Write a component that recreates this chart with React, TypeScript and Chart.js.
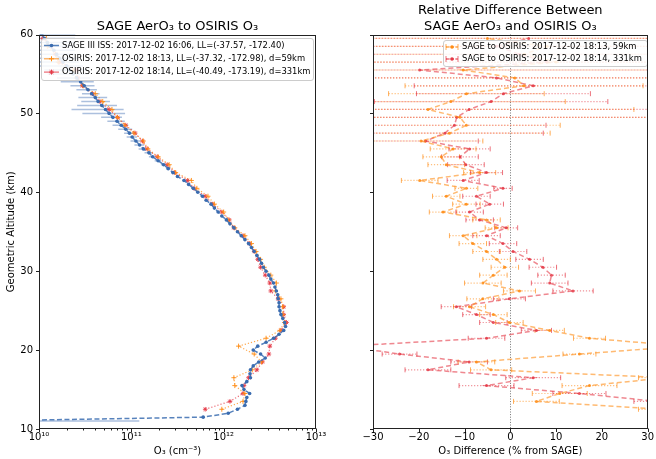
import React, { useEffect, useRef } from 'react';
import { Chart, registerables } from 'chart.js';

Chart.register(...registerables);

const FONT = "'DejaVu Sans', sans-serif";
Chart.defaults.font.family = FONT;
Chart.defaults.color = '#000';

// ---------------- data ----------------
const sageAlt = [
  11, 11.5, 12, 12.5, 13, 13.5, 14, 14.5, 15, 15.5,
  16, 16.5, 17, 17.5, 18, 18.5, 19, 19.5, 20, 20.5,
  21, 21.5, 22, 22.5, 23, 23.5, 24, 24.5, 25, 25.5,
  26, 26.5, 27, 27.5, 28, 28.5, 29, 29.5, 30, 30.5,
  31, 31.5, 32, 32.5, 33, 33.5, 34, 34.5, 35, 35.5,
  36, 36.5, 37, 37.5, 38, 38.5, 39, 39.5, 40, 40.5,
  41, 41.5, 42, 42.5, 43, 43.5, 44, 44.5, 45, 45.5,
  46, 46.5, 47, 47.5, 48, 48.5, 49, 49.5, 50, 50.5,
  51, 51.5, 52, 52.5, 53, 53.5, 54, 54.5, 55, 55.5,
  56, 56.5, 57, 57.5, 58, 58.5, 59, 59.5, 60,
];
const sageO3 = [
  2.0e9, 6.0e11, 1.12e12, 1.41e12, 1.70e12, 1.74e12, 1.78e12, 1.91e12, 1.66e12, 1.58e12,
  1.78e12, 1.95e12, 1.93e12, 1.95e12, 2.09e12, 2.40e12, 2.82e12, 2.51e12, 2.09e12, 2.34e12,
  2.88e12, 3.47e12, 3.98e12, 4.47e12, 4.68e12, 4.57e12, 4.37e12, 4.17e12, 4.07e12, 3.98e12,
  3.98e12, 3.89e12, 3.85e12, 3.72e12, 3.59e12, 3.47e12, 3.24e12, 3.09e12, 2.88e12, 2.69e12,
  2.57e12, 2.45e12, 2.29e12, 2.14e12, 2.00e12, 1.86e12, 1.70e12, 1.55e12, 1.41e12, 1.29e12,
  1.17e12, 1.07e12, 9.55e11, 8.71e11, 7.94e11, 7.30e11, 6.46e11, 5.89e11, 5.25e11, 4.68e11,
  4.17e11, 3.72e11, 3.16e11, 2.82e11, 2.51e11, 2.24e11, 1.95e11, 1.70e11, 1.55e11, 1.35e11,
  1.23e11, 1.12e11, 1.02e11, 9.55e10, 8.71e10, 7.76e10, 7.00e10, 6.31e10, 5.75e10, 5.25e10,
  4.79e10, 4.37e10, 4.07e10, 3.72e10, 3.39e10, 3.09e10, 2.82e10, 2.57e10, 2.34e10, 2.14e10,
  2.00e10, 1.82e10, 1.66e10, 1.55e10, 1.45e10, 1.32e10, 1.23e10, 1.15e10, 1.07e10,
];
const sageErr = [
  1.2e11, 2.0e10, 3.0e10, 3.5e10, 4.0e10, 4.0e10, 4.5e10, 4.5e10, 4.0e10, 4.0e10,
  4.5e10, 4.5e10, 4.5e10, 4.5e10, 5.0e10, 5.5e10, 6.0e10, 6.0e10, 5.0e10, 5.5e10,
  6.5e10, 7.5e10, 8.5e10, 9.0e10, 9.5e10, 9.0e10, 9.0e10, 8.5e10, 8.5e10, 8.0e10,
  8.0e10, 8.0e10, 8.0e10, 7.5e10, 7.5e10, 7.0e10, 7.0e10, 6.5e10, 6.0e10, 6.0e10,
  5.5e10, 5.5e10, 5.0e10, 5.0e10, 4.5e10, 4.5e10, 4.0e10, 4.0e10, 3.5e10, 3.5e10,
  3.0e10, 3.0e10, 2.8e10, 2.6e10, 2.4e10, 2.2e10, 2.0e10, 1.8e10, 1.6e10, 1.5e10,
  1.4e10, 1.3e10, 1.2e10, 1.3e10, 1.4e10, 1.5e10, 1.6e10, 1.5e10, 1.6e10, 1.5e10,
  1.5e10, 1.4e10, 1.3e10, 1.2e10, 1.5e10, 1.5e10, 1.5e10, 1.6e10, 2.8e10, 3.0e10,
  2.2e10, 1.5e10, 1.4e10, 8.0e9, 8.5e9, 9.0e9, 1.1e10, 1.0e10, 1.1e10, 1.0e10,
  1.0e10, 9.0e9, 1.0e10, 9.0e9, 1.0e10, 1.1e10, 1.2e10, 1.3e10, 1.4e10,
];

const osirisAlt = [
  12.5, 13.5, 14.5, 15.5, 16.5, 17.5, 18.5, 19.5, 20.5, 21.5,
  22.5, 23.5, 24.5, 25.5, 26.5, 27.5, 28.5, 29.5, 30.5, 31.5,
  32.5, 33.5, 34.5, 35.5, 36.5, 37.5, 38.5, 39.5, 40.5, 41.5,
  42.5, 43.5, 44.5, 45.5, 46.5, 47.5, 48.5, 49.5, 50.5, 51.5,
  52.5, 53.5, 54.5, 55.5, 56.5, 57.5, 58.5, 59.5,
];
const osiris59O3 = [
  9.55e11, 1.62e12, 1.70e12, 1.32e12, 1.29e12, 2.04e12, 2.57e12, 2.14e12, 1.45e12, 2.88e12,
  4.07e12, 4.57e12, 4.37e12, 4.37e12, 4.17e12, 3.63e12, 3.72e12, 3.24e12, 2.75e12, 2.51e12,
  2.24e12, 2.00e12, 1.70e12, 1.32e12, 1.12e12, 1.00e12, 7.94e11, 6.76e11, 5.13e11, 4.47e11,
  3.02e11, 2.57e11, 1.95e11, 1.51e11, 1.35e11, 1.07e11, 8.51e10, 7.08e10, 6.17e10, 4.90e10,
  4.07e10, 3.02e10, 2.57e10, 2.34e10, 1.62e10, 1.51e10, 1.23e10, 1.20e10,
];
const osiris331O3 = [
  6.31e11, 1.17e12, 1.62e12, 1.66e12, 1.86e12, 2.29e12, 2.63e12, 3.09e12, 3.16e12, 3.63e12,
  4.17e12, 4.79e12, 4.47e12, 4.47e12, 3.89e12, 3.24e12, 3.16e12, 2.82e12, 2.51e12, 2.34e12,
  2.14e12, 1.91e12, 1.62e12, 1.29e12, 1.15e12, 9.55e11, 7.59e11, 6.31e11, 4.79e11, 4.07e11,
  2.95e11, 2.45e11, 1.91e11, 1.48e11, 1.32e11, 1.10e11, 8.71e10, 7.08e10, 5.75e10, 4.57e10,
  3.80e10, 2.95e10, 2.63e10, 2.57e10, 1.66e10, 1.51e10, 1.35e10, 1.10e10,
];
const diff59 = [
  33, 5.7, 10.8, 17.3, 34, -4.2, -7.4, 15.1, 38, 17.3,
  8.6, -0.2, -3.7, -8.9, -6, 2, -6, -3.7, -1.2, -3,
  -5.2, -8.2, -10.3, -3, -5.2, -14.7, -9.6, -14, -9.6, -19.8,
  -6.7, -14, -15.1, -12.5, -19.5, -13.3, -9.6, -11, -18, -13,
  -9.6, 3, 1, -10.3, 10, 3, 8, -5,
];
const diff331 = [
  55, 32, 15.1, -5.2, 5, -18, -9, -24.2, -36, -5.2,
  5.7, -3.7, -7.4, -11.8, -0.2, 13.7, 8.6, 9, 7.1, 4.2,
  0.6, -1.6, -5.2, -0.9, -6.7, -8.9, -4.5, -7.4, -1.6, -10.3,
  -5.2, -9.7, -11, -8.9, -18.5, -14.3, -12.2, -11.7, -9, -4.2,
  -1.5, 5, -3, -19.8, 8, 2, -3, 4,
];
const err59 = [
  5, 5, 6, 6, 6, 4.5, 4, 3.6, 4, 3.5,
  3.2, 3, 3, 3.5, 3.5, 3.5, 4, 3, 3, 3,
  3, 3, 3, 2.5, 3, 3, 3, 3, 2.5, 4,
  3.5, 4, 4, 5, 13.5, 22, 20.5, 60, 45, 25,
  17, 26, 60, 60, 60, 60, 80, 80,
];
const err331 = [
  6, 5, 5.8, 6, 6, 5, 4, 3.8, 4, 4,
  3.3, 3, 3, 3.3, 3.5, 4.4, 4, 3, 3, 3,
  3, 3, 3, 2.5, 3, 3, 3, 3, 2, 3.5,
  3.5, 4, 4, 4.5, 11.5, 21.5, 20, 60, 48, 25.5,
  19, 26, 60, 60, 60, 60, 80, 80,
];

const altTicks = [10, 20, 30, 40, 50, 60];
const diffTicks = [-30, -20, -10, 0, 10, 20, 30];

const leftTitle = ['SAGE AerO\u2083 to OSIRIS O\u2083'];
const rightTitle = ['Relative Difference Between', 'SAGE AerO\u2083 and OSIRIS O\u2083'];
const sageLabel = 'SAGE III ISS: 2017-12-02 16:06, LL=(-37.57, -172.40)';
const osiris59Label = 'OSIRIS: 2017-12-02 18:13, LL=(-37.32, -172.98), d=59km';
const osiris331Label = 'OSIRIS: 2017-12-02 18:14, LL=(-40.49, -173.19), d=331km';
const diff59Label = 'SAGE to OSIRIS: 2017-12-02 18:13, 59km';
const diff331Label = 'SAGE to OSIRIS: 2017-12-02 18:14, 331km';

// ---------------- styling ----------------
const BLUE = 'rgb(58,108,176)';
const ORANGE = 'rgb(255,140,20)';
const RED = 'rgb(228,56,70)';
const LEGEND_FONT = `8.4px ${FONT}`;

const SUP: Record<string, string> = {
  '0': '\u2070', '1': '\u00b9', '2': '\u00b2', '3': '\u00b3', '4': '\u2074',
  '5': '\u2075', '6': '\u2076', '7': '\u2077', '8': '\u2078', '9': '\u2079', '-': '\u207b',
};
const sup = (s: string) => s.split('').map((c) => SUP[c] ?? c).join('');
const isPow10 = (v: number) => {
  const l = Math.log10(v);
  return Math.abs(l - Math.round(l)) < 1e-6;
};

// ---------------- plugins ----------------
const errorBarPlugin = {
  id: 'xErrorBars',
  beforeDatasetsDraw(chart: any) {
    const { ctx, chartArea: ca, scales } = chart;
    const xs = scales.x;
    const ys = scales.y;
    ctx.save();
    ctx.beginPath();
    ctx.rect(ca.left, ca.top, ca.right - ca.left, ca.bottom - ca.top);
    ctx.clip();
    chart.data.datasets.forEach((ds: any) => {
      const eb = ds.xErr;
      if (!eb) return;
      ds.data.forEach((p: any, i: number) => {
        const e = eb.values[i];
        let lo = p.x - e;
        const hi = p.x + e;
        if (xs.type === 'logarithmic' && lo <= 0) lo = xs.min / 100;
        const x1 = xs.getPixelForValue(lo);
        const x2 = xs.getPixelForValue(hi);
        const y = ys.getPixelForValue(p.y);
        ctx.strokeStyle = eb.color;
        ctx.lineWidth = eb.width;
        ctx.setLineDash(eb.dash || []);
        ctx.beginPath();
        ctx.moveTo(x1, y);
        ctx.lineTo(x2, y);
        ctx.stroke();
        if (eb.cap) {
          ctx.setLineDash([]);
          ctx.strokeStyle = eb.capColor || eb.color;
          ctx.lineWidth = 1;
          ctx.beginPath();
          ctx.moveTo(x1, y - eb.cap);
          ctx.lineTo(x1, y + eb.cap);
          ctx.moveTo(x2, y - eb.cap);
          ctx.lineTo(x2, y + eb.cap);
          ctx.stroke();
        }
      });
    });
    ctx.restore();
  },
};

const zeroLinePlugin = {
  id: 'zeroLine',
  beforeDatasetsDraw(chart: any) {
    const { ctx, chartArea: ca, scales } = chart;
    const x = Math.round(scales.x.getPixelForValue(0)) + 0.5;
    ctx.save();
    ctx.strokeStyle = 'rgba(60,60,60,0.9)';
    ctx.lineWidth = 0.8;
    ctx.setLineDash([1, 1.6]);
    ctx.beginPath();
    ctx.moveTo(x, ca.top);
    ctx.lineTo(x, ca.bottom);
    ctx.stroke();
    ctx.restore();
  },
};

const frameTicksPlugin = {
  id: 'frameTicks',
  afterDraw(chart: any) {
    const { ctx, chartArea: ca, scales } = chart;
    const xs = scales.x;
    const ys = scales.y;
    const L = Math.round(ca.left) + 0.5;
    const R = Math.round(ca.right) - 0.5;
    const T = Math.round(ca.top) + 0.5;
    const B = Math.round(ca.bottom) - 0.5;
    ctx.save();
    ctx.strokeStyle = '#222';
    ctx.lineWidth = 1;
    ctx.strokeRect(L, T, R - L, B - T);
    ctx.beginPath();
    if (xs.type === 'logarithmic') {
      xs.ticks.forEach((t: any) => {
        const v = t.value;
        const m = v / Math.pow(10, Math.floor(Math.log10(v) + 1e-9));
        if (Math.abs(m - Math.round(m)) > 1e-6) return;
        const px = Math.round(xs.getPixelForValue(v)) + 0.5;
        const len = isPow10(v) ? 3.5 : 2;
        ctx.moveTo(px, B);
        ctx.lineTo(px, B + len);
      });
    } else {
      xs.ticks.forEach((t: any) => {
        const px = Math.round(xs.getPixelForValue(t.value)) + 0.5;
        ctx.moveTo(px, B);
        ctx.lineTo(px, B + 3.5);
      });
    }
    ys.ticks.forEach((t: any) => {
      const py = Math.round(ys.getPixelForValue(t.value)) + 0.5;
      ctx.moveTo(L, py);
      ctx.lineTo(L - 3.5, py);
    });
    ctx.stroke();
    ctx.restore();
  },
};

function makeTitle(lines: string[], mids: number[]) {
  return {
    id: 'panelTitle',
    afterDraw(chart: any) {
      const { ctx, chartArea: ca } = chart;
      ctx.save();
      ctx.fillStyle = '#000';
      ctx.font = `13px ${FONT}`;
      ctx.textAlign = 'center';
      ctx.textBaseline = 'middle';
      const cx = (ca.left + ca.right) / 2;
      lines.forEach((l, i) => ctx.fillText(l, cx, mids[i]));
      ctx.restore();
    },
  };
}

type LegendItem = {
  text: string;
  color: string;
  lineColor: string;
  lw: number;
  dash: number[];
  marker: 'circle' | 'cross' | 'star';
  caps?: boolean;
  errColor?: string;
};
type LegendCfg = {
  x: number; y: number; w: number; h: number;
  first: number; step: number; hx: number; hlen: number; tx: number;
  items: LegendItem[];
};

function drawMarker(ctx: CanvasRenderingContext2D, kind: string, x: number, y: number, color: string) {
  ctx.setLineDash([]);
  if (kind === 'circle') {
    ctx.fillStyle = color;
    ctx.beginPath();
    ctx.arc(x, y, 1.8, 0, Math.PI * 2);
    ctx.fill();
  } else {
    ctx.strokeStyle = color;
    ctx.lineWidth = 1;
    ctx.beginPath();
    ctx.moveTo(x - 2.5, y);
    ctx.lineTo(x + 2.5, y);
    ctx.moveTo(x, y - 2.5);
    ctx.lineTo(x, y + 2.5);
    if (kind === 'star') {
      ctx.moveTo(x - 1.8, y - 1.8);
      ctx.lineTo(x + 1.8, y + 1.8);
      ctx.moveTo(x - 1.8, y + 1.8);
      ctx.lineTo(x + 1.8, y - 1.8);
    }
    ctx.stroke();
  }
}

function makeLegend(cfg: LegendCfg) {
  return {
    id: 'boxLegend',
    afterDatasetsDraw(chart: any) {
      const ctx: CanvasRenderingContext2D = chart.ctx;
      ctx.save();
      ctx.beginPath();
      if ((ctx as any).roundRect) (ctx as any).roundRect(cfg.x + 0.5, cfg.y + 0.5, cfg.w, cfg.h, 2.5);
      else ctx.rect(cfg.x + 0.5, cfg.y + 0.5, cfg.w, cfg.h);
      ctx.fillStyle = 'rgba(255,255,255,0.85)';
      ctx.fill();
      ctx.strokeStyle = '#cccccc';
      ctx.lineWidth = 1;
      ctx.stroke();
      cfg.items.forEach((it, i) => {
        const cy = cfg.y + cfg.first + i * cfg.step;
        const x0 = cfg.x + cfg.hx;
        const x1 = x0 + cfg.hlen;
        if (it.caps && it.errColor) {
          ctx.strokeStyle = it.errColor;
          ctx.lineWidth = 1.2;
          ctx.setLineDash([1.2, 1.8]);
          ctx.beginPath();
          ctx.moveTo(x0, cy);
          ctx.lineTo(x1, cy);
          ctx.stroke();
          ctx.setLineDash([]);
          ctx.lineWidth = 1;
          ctx.beginPath();
          ctx.moveTo(x0, cy - 3);
          ctx.lineTo(x0, cy + 3);
          ctx.moveTo(x1, cy - 3);
          ctx.lineTo(x1, cy + 3);
          ctx.stroke();
        }
        ctx.strokeStyle = it.lineColor;
        ctx.lineWidth = it.lw;
        ctx.setLineDash(it.dash);
        ctx.beginPath();
        ctx.moveTo(x0, cy);
        ctx.lineTo(x1, cy);
        ctx.stroke();
        drawMarker(ctx, it.marker, (x0 + x1) / 2, cy, it.color);
        ctx.fillStyle = '#000';
        ctx.font = LEGEND_FONT;
        ctx.textAlign = 'left';
        ctx.textBaseline = 'middle';
        ctx.fillText(it.text, cfg.x + cfg.tx, cy);
      });
      ctx.restore();
    },
  };
}

// ---------------- configs ----------------
function leftConfig(): any {
  return {
    type: 'scatter',
    data: {
      datasets: [
        {
          label: sageLabel,
          data: sageAlt.map((a, i) => ({ x: sageO3[i], y: a })),
          showLine: true,
          borderColor: 'rgba(58,108,176,0.85)',
          borderWidth: 1.5,
          borderDash: [5, 2.5],
          pointRadius: 1.8,
          pointBackgroundColor: BLUE,
          pointBorderWidth: 0,
          pointHoverRadius: 0,
          xErr: { values: sageErr, color: 'rgba(90,130,190,0.5)', width: 1.5 },
        },
        {
          label: osiris59Label,
          data: osirisAlt.map((a, i) => ({ x: osiris59O3[i], y: a })),
          showLine: true,
          borderColor: 'rgba(255,140,20,0.75)',
          borderWidth: 1.2,
          borderDash: [1.2, 2],
          pointStyle: 'cross',
          pointRadius: 2.5,
          pointBorderColor: 'rgba(255,140,20,0.9)',
          pointBorderWidth: 1,
          pointHoverRadius: 0,
        },
        {
          label: osiris331Label,
          data: osirisAlt.map((a, i) => ({ x: osiris331O3[i], y: a })),
          showLine: true,
          borderColor: 'rgba(228,56,70,0.75)',
          borderWidth: 1.2,
          borderDash: [1.2, 2],
          pointStyle: 'star',
          pointRadius: 2.3,
          pointBorderColor: 'rgba(228,56,70,0.9)',
          pointBorderWidth: 1,
          pointHoverRadius: 0,
        },
      ],
    },
    options: {
      responsive: false,
      animation: false,
      events: [],
      layout: { padding: { left: 0, right: 24, top: 34.5, bottom: 0 } },
      plugins: {
        legend: { display: false },
        tooltip: { enabled: false },
        title: { display: false },
      },
      scales: {
        x: {
          type: 'logarithmic',
          min: 1e10,
          max: 1e13,
          grid: { display: false, drawTicks: false },
          border: { display: false },
          ticks: {
            autoSkip: false,
            maxRotation: 0,
            padding: 2,
            color: '#000',
            font: { family: FONT, size: 10 },
            callback: (v: number) => (isPow10(v) ? '10' + sup(String(Math.round(Math.log10(v)))) : ''),
          },
          title: {
            display: true,
            text: 'O\u2083 (cm' + sup('-3') + ')',
            color: '#000',
            font: { family: FONT, size: 10 },
            padding: { top: 0, bottom: 2 },
          },
          afterFit: (s: any) => { s.height = 30; },
        },
        y: {
          type: 'linear',
          min: 10,
          max: 60,
          afterBuildTicks: (s: any) => { s.ticks = altTicks.map((v) => ({ value: v })); },
          grid: { display: false, drawTicks: false },
          border: { display: false },
          ticks: { padding: 6, color: '#000', font: { family: FONT, size: 10 } },
          title: {
            display: true,
            text: 'Geometric Altitude (km)',
            color: '#000',
            font: { family: FONT, size: 10 },
            padding: { top: 5, bottom: 0 },
          },
          afterFit: (s: any) => { s.width = 39; },
        },
      },
    },
    plugins: [
      errorBarPlugin,
      frameTicksPlugin,
      makeTitle(leftTitle, [26.3]),
      makeLegend({
        x: 41, y: 38, w: 272, h: 42, first: 7.5, step: 13.3, hx: 3, hlen: 15, tx: 21,
        items: [
          { text: sageLabel, color: BLUE, lineColor: 'rgba(58,108,176,0.85)', lw: 1.5, dash: [], marker: 'circle' },
          { text: osiris59Label, color: ORANGE, lineColor: 'rgba(255,140,20,0.75)', lw: 1.2, dash: [], marker: 'cross' },
          { text: osiris331Label, color: RED, lineColor: 'rgba(228,56,70,0.75)', lw: 1.2, dash: [], marker: 'star' },
        ],
      }),
    ],
  };
}

function rightConfig(): any {
  return {
    type: 'scatter',
    data: {
      datasets: [
        {
          label: diff59Label,
          data: osirisAlt.map((a, i) => ({ x: diff59[i], y: a })),
          showLine: true,
          borderColor: 'rgba(255,140,20,0.6)',
          borderWidth: 1.5,
          borderDash: [5, 3],
          pointRadius: 1.5,
          pointBackgroundColor: 'rgba(255,140,20,0.85)',
          pointBorderWidth: 0,
          pointHoverRadius: 0,
          xErr: { values: err59, color: 'rgba(255,150,40,0.6)', capColor: 'rgba(255,150,40,0.75)', width: 1.2, dash: [1.2, 1.8], cap: 2.5 },
        },
        {
          label: diff331Label,
          data: osirisAlt.map((a, i) => ({ x: diff331[i], y: a })),
          showLine: true,
          borderColor: 'rgba(228,56,70,0.6)',
          borderWidth: 1.5,
          borderDash: [5, 3],
          pointRadius: 1.5,
          pointBackgroundColor: 'rgba(228,56,70,0.85)',
          pointBorderWidth: 0,
          pointHoverRadius: 0,
          xErr: { values: err331, color: 'rgba(228,56,70,0.55)', capColor: 'rgba(228,56,70,0.7)', width: 1.2, dash: [1.2, 1.8], cap: 2.5 },
        },
      ],
    },
    options: {
      responsive: false,
      animation: false,
      events: [],
      layout: { padding: { left: 0, right: 8, top: 34.5, bottom: 0 } },
      plugins: {
        legend: { display: false },
        tooltip: { enabled: false },
        title: { display: false },
      },
      scales: {
        x: {
          type: 'linear',
          min: -30,
          max: 30,
          afterBuildTicks: (s: any) => { s.ticks = diffTicks.map((v) => ({ value: v })); },
          grid: { display: false, drawTicks: false },
          border: { display: false },
          ticks: {
            maxRotation: 0,
            autoSkip: false,
            padding: 2,
            color: '#000',
            font: { family: FONT, size: 10 },
            callback: (v: number) => (v < 0 ? '\u2212' + Math.abs(v) : String(v)),
          },
          title: {
            display: true,
            text: 'O\u2083 Difference (% from SAGE)',
            color: '#000',
            font: { family: FONT, size: 10 },
            padding: { top: 0, bottom: 2 },
          },
          afterFit: (s: any) => { s.height = 30; },
        },
        y: {
          type: 'linear',
          min: 10,
          max: 60,
          afterBuildTicks: (s: any) => { s.ticks = altTicks.map((v) => ({ value: v })); },
          grid: { display: false, drawTicks: false },
          border: { display: false },
          ticks: { callback: () => '', font: { family: FONT, size: 10 } },
          afterFit: (s: any) => { s.width = 33; },
        },
      },
    },
    plugins: [
      zeroLinePlugin,
      errorBarPlugin,
      frameTicksPlugin,
      makeTitle(rightTitle, [10.6, 26.3]),
      makeLegend({
        x: 103, y: 40, w: 204, h: 26, first: 7, step: 12, hx: 3, hlen: 12, tx: 19,
        items: [
          { text: diff59Label, color: ORANGE, lineColor: 'rgba(255,140,20,0.7)', lw: 1.3, dash: [3, 2], marker: 'circle', caps: true, errColor: 'rgba(255,150,40,0.75)' },
          { text: diff331Label, color: RED, lineColor: 'rgba(228,56,70,0.7)', lw: 1.3, dash: [3, 2], marker: 'circle', caps: true, errColor: 'rgba(228,56,70,0.7)' },
        ],
      }),
    ],
  };
}

function ChartCanvas({ makeConfig, left, width }: { makeConfig: () => any; left: number; width: number }) {
  const ref = useRef<HTMLCanvasElement>(null);
  useEffect(() => {
    const chart = new Chart(ref.current as HTMLCanvasElement, makeConfig());
    return () => chart.destroy();
  }, []);
  return (
    <canvas
      ref={ref}
      width={width}
      height={459}
      style={{ position: 'absolute', left, top: 0, width, height: 459 }}
    />
  );
}

export default function App() {
  return (
    <div style={{ position: 'absolute', left: 0, top: 0, width: 656, height: 459, background: '#fff', overflow: 'hidden' }}>
      <ChartCanvas makeConfig={leftConfig} left={0} width={340} />
      <ChartCanvas makeConfig={rightConfig} left={340} width={316} />
    </div>
  );
}
